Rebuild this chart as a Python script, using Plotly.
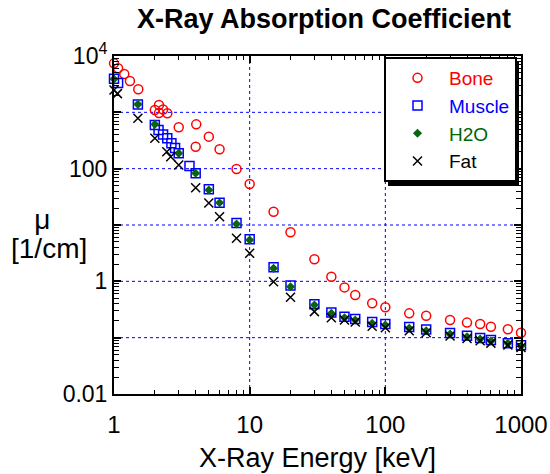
import plotly.graph_objects as go

# ---- data ----
bone_E = [1.0, 1.072, 1.19, 1.31, 1.51, 2.0, 2.1455, 2.1455, 2.3, 2.472, 3.0, 4.0, 4.0381,
          5, 6, 8, 10, 15, 20, 30, 40, 50, 60, 80, 100, 150, 200, 300, 400, 500, 600, 800, 1000]
bone_mu = [7400, 6050, 4790, 3600, 2570, 1100, 970, 1350, 1120, 960, 542, 245, 612,
           370, 221, 98.6, 53.5, 17.2, 7.41, 2.46, 1.21, 0.78, 0.571, 0.407, 0.346, 0.270, 0.245,
           0.206, 0.185, 0.175, 0.156, 0.141, 0.122]

muscle_E = [1.0, 1.072, 1.5, 2.0, 2.13, 2.3, 2.47, 2.65, 2.82, 3.0, 3.6, 4.0, 5, 6, 8, 10, 15, 20,
            30, 40, 50, 60, 80, 100, 150, 200, 300, 400, 500, 600, 800, 1000]
muscle_mu = [3950, 3300, 1380, 596, 486, 404, 346, 282, 233, 187, 111, 82.8, 43, 24.9, 10.9, 5.6,
             1.78, 0.84, 0.39, 0.28, 0.235, 0.214, 0.19, 0.175, 0.154, 0.14, 0.121, 0.108, 0.099,
             0.091, 0.08, 0.073]

water_E = [1.0, 1.5, 2.0, 3.0, 4.0, 5, 6, 8, 10, 15, 20, 30, 40, 50, 60, 80, 100, 150, 200,
           300, 400, 500, 600, 800, 1000]
water_mu = [3910, 1387, 612, 187, 82.8, 41.8, 24.9, 10.4, 5.42, 1.70, 0.803, 0.380, 0.270, 0.226,
            0.206, 0.180, 0.168, 0.147, 0.133, 0.116, 0.104, 0.0946, 0.0871, 0.0794, 0.071]

fat_E = [1.0, 1.06, 1.5, 2.0, 2.45, 2.62, 3.0, 4.0, 5, 6, 8, 10, 15, 20, 30, 40, 50, 60, 80, 100,
         150, 200, 300, 400, 500, 600, 800, 1000]
fat_mu = [2500, 2150, 783, 346, 200, 163, 116, 46, 24.5, 14.0, 5.8, 3.14, 0.986, 0.52, 0.29, 0.225,
          0.206, 0.19, 0.16, 0.15, 0.133, 0.122, 0.107, 0.097, 0.088, 0.080, 0.074, 0.067]

y_tickvals = [0.01, 0.1, 1, 10, 100, 1000, 10000]
y_ticktext = ["0.01", "", "1", "", "100", "", "10<sup>4</sup>"]
x_tickvals = [1, 10, 100, 1000]
x_ticktext = ["1", "10", "100", "1000"]
y_gridvals = [0.1, 1, 10, 100, 1000]
x_gridvals = [10, 100]

FONT = "Liberation Sans, Arial, sans-serif"

# ---- layout geometry (window pixels; page body margin is removed below) ----
W, H = 550, 474
L, T = 114, 56
R, B = W - 521, H - 394
PW, PH = W - L - R, H - T - B


def px_x(p):
    return (p - L) / PW


def px_y(p):
    return (H - B - p) / PH


fig = go.Figure()
fig.add_trace(go.Scatter(x=bone_E, y=bone_mu, mode="markers",
                         name='<span style="color:#ff0000">Bone</span>',
                         marker=dict(symbol="circle-open", size=9, color="#ff0000",
                                     line=dict(width=1.5, color="#ff0000")),
                         cliponaxis=False))
fig.add_trace(go.Scatter(x=muscle_E, y=muscle_mu, mode="markers",
                         name='<span style="color:#0000ff">Muscle</span>',
                         marker=dict(symbol="square-open", size=9, color="#0000ff",
                                     line=dict(width=1.5, color="#0000ff")),
                         cliponaxis=False))
fig.add_trace(go.Scatter(x=water_E, y=water_mu, mode="markers",
                         name='<span style="color:#006400">H2O</span>',
                         marker=dict(symbol="diamond", size=7, color="#0a6414",
                                     line=dict(width=0)),
                         cliponaxis=False))
fig.add_trace(go.Scatter(x=fat_E, y=fat_mu, mode="markers",
                         name='<span style="color:#000000">Fat</span>',
                         marker=dict(symbol="x-thin-open", size=9, color="#000000",
                                     line=dict(width=1.5, color="#000000")),
                         cliponaxis=False))

minor_y = [m * 10 ** k for k in range(-2, 4) for m in range(2, 10)]
minor_x = [m * 10 ** k for k in range(0, 3) for m in range(2, 10)]

fig.update_xaxes(type="log", range=[0, 3], tickvals=x_tickvals, ticktext=x_ticktext,
                 automargin=False, showgrid=False,
                 ticks="inside", ticklen=7, tickwidth=1.5, tickcolor="black",
                 showline=True, linecolor="black", linewidth=2, mirror="ticks",
                 zeroline=False, ticklabelstandoff=8,
                 minor=dict(tickvals=minor_x, ticks="inside", ticklen=4, tickwidth=1,
                            tickcolor="black", showgrid=False),
                 tickfont=dict(family=FONT, size=24, color="black"),
                 title=dict(text="X-Ray Energy [keV]", font=dict(family=FONT, size=27, color="black"),
                            standoff=11))
fig.update_yaxes(type="log", range=[-2, 4], tickvals=y_tickvals, ticktext=y_ticktext,
                 automargin=False, showgrid=False,
                 ticks="inside", ticklen=7, tickwidth=1.5, tickcolor="black",
                 showline=True, linecolor="black", linewidth=2, mirror="ticks",
                 zeroline=False,
                 minor=dict(tickvals=minor_y, ticks="inside", ticklen=5, tickwidth=1,
                            tickcolor="black", showgrid=False),
                 tickfont=dict(family=FONT, size=23, color="black"))

# dotted blue grid lines at every decade
for v in y_gridvals:
    fig.add_shape(type="line", xref="paper", yref="y", x0=0, x1=1, y0=v, y1=v,
                  line=dict(color="#0000ff", width=1, dash="dot"), layer="below")
for v in x_gridvals:
    fig.add_shape(type="line", xref="x", yref="paper", x0=v, x1=v, y0=0, y1=1,
                  line=dict(color="#0000ff", width=1, dash="dot"), layer="below")

# legend shadow
lx0, ly0, lw, lh = 384, 57, 131, 125
fig.add_shape(type="rect", xref="paper", yref="paper",
              x0=px_x(lx0 + 4), x1=px_x(lx0 + lw + 4),
              y0=px_y(ly0 + lh + 4), y1=px_y(ly0 + 4),
              fillcolor="black", line=dict(width=0), layer="above")

fig.add_annotation(text='<span style="font-size:28px">&nbsp;&nbsp;&nbsp;μ</span><br>'
                        '<span style="font-size:28px">[1/cm]</span>',
                   xref="paper", yref="paper", x=px_x(9), y=px_y(234),
                   xanchor="left", yanchor="middle", align="left", showarrow=False,
                   font=dict(family=FONT, size=22, color="black"))

fig.update_layout(
    width=W, height=H,
    margin=dict(l=L, r=R, t=T, b=B, autoexpand=False),
    paper_bgcolor="white", plot_bgcolor="white",
    title=dict(text="X-Ray Absorption Coefficient", x=px_x(324), xref="paper",
               xanchor="center", y=1 - 19 / H, yref="container", yanchor="middle",
               font=dict(family=FONT, size=27, color="black", weight="bold")),
    legend=dict(x=px_x(lx0), y=px_y(ly0), xanchor="left", yanchor="top",
                bgcolor="white", bordercolor="black", borderwidth=2,
                font=dict(family=FONT, size=19, color="black"),
                itemwidth=53),
    showlegend=True,
)

fig.write_html("out.html",
               config={"displayModeBar": False},
               post_script="document.body.style.margin='0px';"
                           "document.body.style.padding='0px';")
